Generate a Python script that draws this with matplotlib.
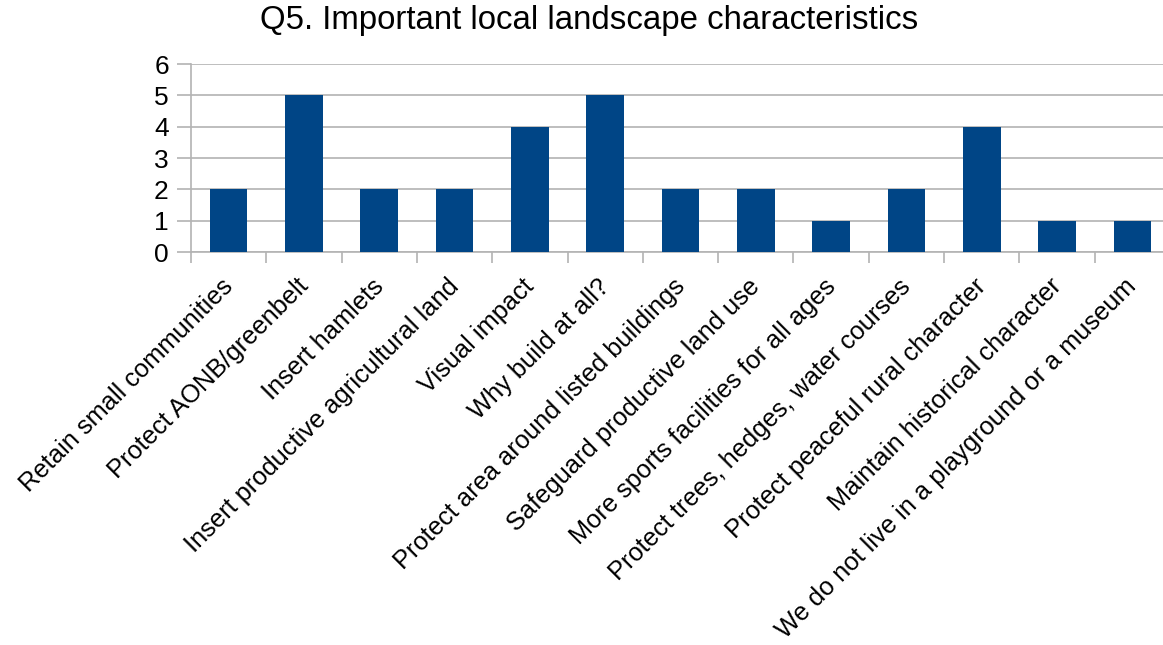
import matplotlib
matplotlib.use('Agg')
import matplotlib.pyplot as plt
import matplotlib.transforms as mtransforms
import numpy as np

plt.rcParams['font.family'] = ['Liberation Sans', 'DejaVu Sans']

categories = [
    'Retain small communities',
    'Protect AONB/greenbelt',
    'Insert hamlets',
    'Insert productive agricultural land',
    'Visual impact',
    'Why build at all?',
    'Protect area around listed buildings',
    'Safeguard productive land use',
    'More sports facilities for all ages',
    'Protect trees, hedges, water courses',
    'Protect peaceful rural character',
    'Maintain historical character',
    'We do not live in a playground or a museum',
]
counts = [2, 5, 2, 2, 4, 5, 2, 2, 1, 2, 4, 1, 1]

W, H = 1163, 645
fig = plt.figure(figsize=(W / 100, H / 100), dpi=100)
ax = fig.add_axes([191 / W, (H - 252) / H, (1170 - 191) / W, (252 - 64) / H])

x = np.arange(len(categories))
ax.bar(x, counts, width=0.5, color='#004586', zorder=3)

ax.set_xlim(-0.5, len(categories) - 0.5)
ax.set_ylim(0, 6)
ax.set_yticks(range(0, 7))
ax.yaxis.grid(True, color='#b3b3b3', linewidth=1.2, zorder=0)

# category labels at centres, tick marks at boundaries
ax.set_xticks(x)
ax.set_xticklabels(categories, rotation=45, ha='right', va='top',
                   rotation_mode='anchor', fontsize=18.3)
ax.tick_params(axis='x', length=0, pad=16)
ax.set_xticks(np.arange(-0.5, len(categories), 1), minor=True)
ax.tick_params(axis='x', which='minor', length=8, color='#b3b3b3', width=1.2)
ax.tick_params(axis='y', labelsize=19, length=10, color='#b3b3b3', width=1.2, pad=6)

shift = mtransforms.ScaledTranslation(-8 / 100, 0, fig.dpi_scale_trans)
for lab in ax.get_xticklabels():
    lab.set_transform(lab.get_transform() + shift)

for side in ['top', 'right']:
    ax.spines[side].set_visible(False)
for side in ['left', 'bottom']:
    ax.spines[side].set_color('#b3b3b3')
    ax.spines[side].set_linewidth(1.2)

fig.suptitle('Q5. Important local landscape characteristics', fontsize=23.8,
             x=589 / W, y=1 - 21 / H, va='center')

fig.savefig('out.png', dpi=100)
